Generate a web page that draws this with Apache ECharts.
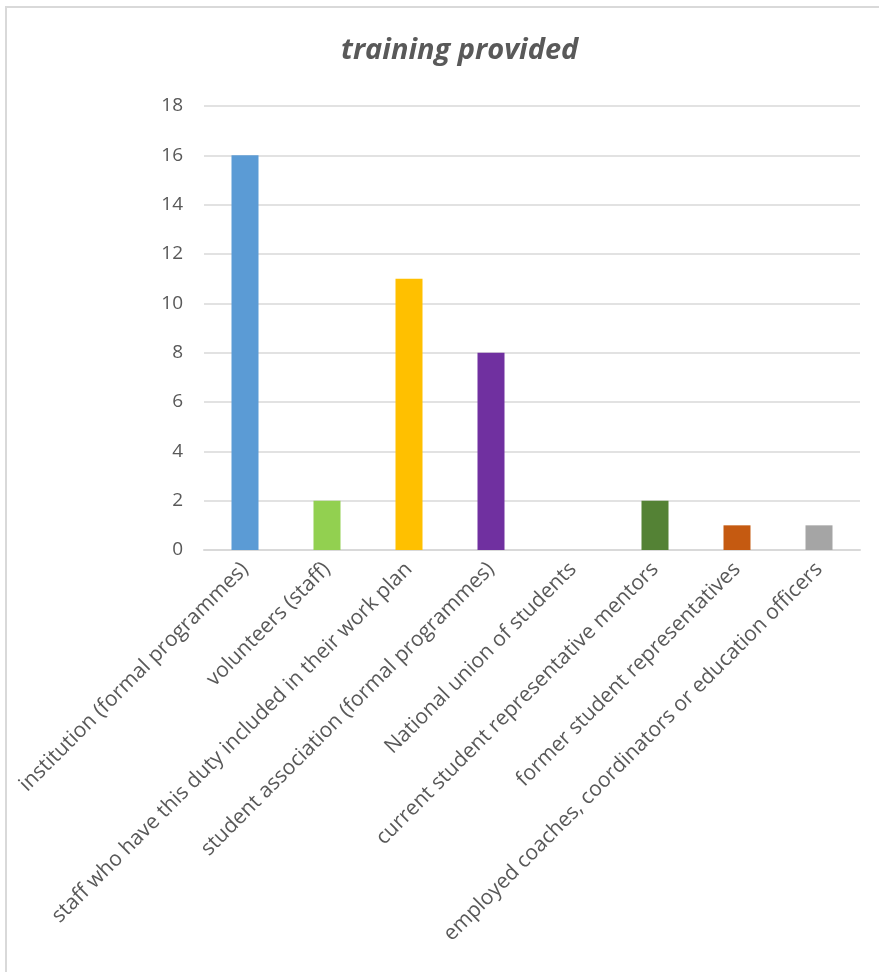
<!DOCTYPE html>
<html>
<head>
<meta charset="utf-8">
<script src="https://cdn.jsdelivr.net/npm/echarts@6/dist/echarts.min.js"></script>
<style>
  html, body { margin: 0; padding: 0; background: #fff; }
  #chart { width: 879px; height: 972px; }
</style>
</head>
<body>
<div id="chart"></div>
<script>
// Who provides the training
const categories = [
  'institution (formal programmes)',
  'volunteers (staff)',
  'staff who have this duty included in their work plan',
  'student association (formal programmes)',
  'National union of students',
  'current student representative mentors',
  'former student representatives',
  'employed coaches, coordinators or education officers'
];
const values = [16, 2, 11, 8, 0, 2, 1, 1];
const barColors = ['#5B9BD5', '#92D050', '#FFC000', '#7030A0', '#4472C4', '#548235', '#C55A11', '#A5A5A5'];
const yTicks = { min: 0, max: 18, interval: 2 };

const textColor = '#595959';
const fontFamily = 'Open Sans, Liberation Sans, sans-serif';

const chart = echarts.init(document.getElementById('chart'), null, { renderer: 'canvas' });
chart.setOption({
  backgroundColor: '#fff',
  animation: false,
  graphic: [{
    type: 'rect',
    shape: { x: 6, y: 7, width: 1000, height: 1100 },
    style: { fill: 'none', stroke: '#d9d9d9', lineWidth: 2 },
    silent: true
  }],
  title: {
    text: 'training provided',
    left: 336,
    top: 31,
    textStyle: {
      color: textColor,
      fontFamily: fontFamily,
      fontSize: 29,
      fontWeight: 'bold',
      fontStyle: 'italic'
    }
  },
  grid: { left: 204, right: 19, top: 106, bottom: 422, containLabel: false },
  xAxis: {
    type: 'category',
    data: categories,
    axisLine: { lineStyle: { color: '#d9d9d9', width: 2 } },
    axisTick: { show: false },
    axisLabel: {
      rotate: 45,
      interval: 0,
      margin: 16,
      color: textColor,
      fontFamily: fontFamily,
      fontSize: 21
    }
  },
  yAxis: {
    type: 'value',
    min: yTicks.min,
    max: yTicks.max,
    interval: yTicks.interval,
    axisLine: { show: false },
    axisTick: { show: false },
    splitLine: { lineStyle: { color: '#d9d9d9', width: 1.5 } },
    axisLabel: {
      margin: 21,
      color: textColor,
      fontFamily: fontFamily,
      fontSize: 19
    }
  },
  series: [{
    type: 'bar',
    data: values.map((v, i) => ({ value: v, itemStyle: { color: barColors[i] } })),
    barWidth: 27
  }]
});
</script>
</body>
</html>
